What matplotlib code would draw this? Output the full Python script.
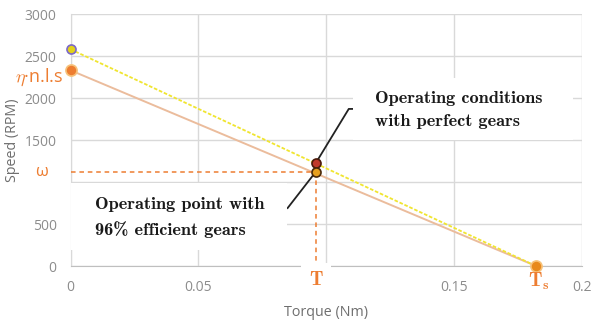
import matplotlib.pyplot as plt
import matplotlib.transforms as mtransforms
from matplotlib.patches import Rectangle

# data
torque = [0, 0.182]                 # Nm, no-load point and stall point
speed_perfect = [2580, 0]           # RPM, perfect gears
speed_eff = [2330, 0]               # RPM, 96% efficient gears
op_torque = 0.096
op_speed_perfect = 1230
op_speed_eff = 1125
xticks = [0, 0.05, 0.1, 0.15, 0.2]
xticklabels = ['0', '0.05', '', '0.15', '0.2']    # 0.1 is hidden behind the T label
yticks = [0, 500, 1000, 1500, 2000, 2500, 3000]
yticklabels = ['0', '500', '', '1500', '2000', '2500', '3000']   # 1000 hidden behind omega

orange = '#ed7d31'
gray_txt = '#8c8c8c'

plt.rcParams['mathtext.fontset'] = 'cm'

fig = plt.figure(figsize=(5.92, 3.25), dpi=100)
ax = fig.add_axes([70.5 / 592, 1 - 266 / 325, 511.5 / 592, 252 / 325])

# the two characteristic lines
ax.plot(torque, speed_eff, '-', color='#ebbc9c', lw=1.4, zorder=3)
ax.plot(torque, speed_perfect, color='#f0e530', lw=1.3, ls=(0, (2, 1)), zorder=3)

# end markers
ax.plot(torque[0], speed_perfect[0], 'o', ms=6.5, mfc='#e3d21a', mec='#7b68c8', mew=1.2,
        clip_on=False, zorder=5)
ax.plot(torque[0], speed_eff[0], 'o', ms=8, mfc=orange, mec='#f7c27a', mew=1.2,
        clip_on=False, zorder=5)
ax.plot(torque[1], speed_eff[1], 'o', ms=8, mfc='#e8891c', mec='#f7c27a', mew=1.2,
        clip_on=False, zorder=5)

# dashed guides to the operating point
ax.plot([0, op_torque], [op_speed_eff, op_speed_eff], '--', color=orange, lw=1.1,
        dashes=(3, 2.5), clip_on=False, zorder=4)
ax.plot([op_torque, op_torque], [op_speed_eff, -60], '--', color=orange, lw=1.1,
        dashes=(3, 2.5), clip_on=False, zorder=4)

# operating points
ax.plot(op_torque, op_speed_perfect, 'o', ms=6.5, mfc='#c0392b', mec='#4a1a0a', mew=1.2, zorder=7)
ax.plot(op_torque, op_speed_eff, 'o', ms=6.5, mfc='#e6a020', mec='#4a2a0a', mew=1.2, zorder=7)

# leader lines to the text boxes
ax.plot([op_torque, 0.1088, 0.1110], [op_speed_perfect, 1870, 1870], color='#222222',
        lw=1.3, zorder=6)
ax.plot([op_torque, 0.0849], [op_speed_eff, 690], color='#222222', lw=1.3, zorder=6)

# text boxes
ax.add_patch(Rectangle((0.552, 0.50), 0.43, 0.245, transform=ax.transAxes,
                       facecolor='white', edgecolor='none', zorder=8))
ax.text(0.595, 0.619, 'Operating conditions\nwith perfect gears', transform=ax.transAxes,
        family='cmb10', fontsize=13.2, va='center', ha='left', linespacing=1.68,
        color='#1a1a1a', zorder=9)
ax.add_patch(Rectangle((0.0, 0.063), 0.423, 0.266, transform=ax.transAxes,
                       facecolor='white', edgecolor='none', zorder=8))
ax.text(0.048, 0.192, 'Operating point with\n96% efficient gears', transform=ax.transAxes,
        family='cmb10', fontsize=13.2, va='center', ha='left', linespacing=1.68,
        color='#1a1a1a', zorder=9)

# orange labels
trans_y = mtransforms.blended_transform_factory(ax.transAxes, ax.transData)
trans_x = mtransforms.blended_transform_factory(ax.transData, ax.transAxes)
ax.text(-0.014, speed_eff[0] - 80, r'$\eta$' + '\u00b7n.l.s', transform=trans_y,
        color=orange, fontsize=13, ha='right', va='center', family='Open Sans')
ax.text(-0.057, op_speed_eff, '\u03c9', transform=trans_y, color=orange,
        fontsize=12, ha='center', va='center', family='Open Sans')
ax.text(op_torque, -0.055, r'$\mathbf{T}$', transform=trans_x, color=orange, fontsize=14,
        ha='center', va='center', zorder=9,
        bbox=dict(boxstyle='square,pad=0.4', fc='white', ec='none'))
ax.text(torque[1] + 0.001, -0.06, r'$\mathbf{T}_{\mathbf{s}}$', transform=trans_x,
        color=orange, fontsize=14, ha='center', va='center', zorder=9)

ax.set_xlim(0, 0.2)
ax.set_ylim(0, 3000)
ax.set_xticks(xticks)
ax.set_xticklabels(xticklabels)
ax.set_yticks(yticks)
ax.set_yticklabels(yticklabels)
ax.grid(True, color='#d9d9d9', lw=1)
ax.set_axisbelow(True)
ax.tick_params(length=0, labelsize=10, labelcolor=gray_txt, pad=10)
for lab in ax.get_xticklabels() + ax.get_yticklabels():
    lab.set_family('Open Sans')
for s in ['top', 'right']:
    ax.spines[s].set_visible(False)
ax.spines['left'].set_color('#d9d9d9')
ax.spines['bottom'].set_color('#bfbfbf')

ax.set_xlabel('Torque (Nm)', color='#6e6e6e', fontsize=10.3, family='Open Sans', labelpad=7)
ax.set_ylabel('Speed (RPM)', color='#6e6e6e', fontsize=10.3, family='Open Sans', labelpad=3)

fig.savefig('out.png', dpi=100)
